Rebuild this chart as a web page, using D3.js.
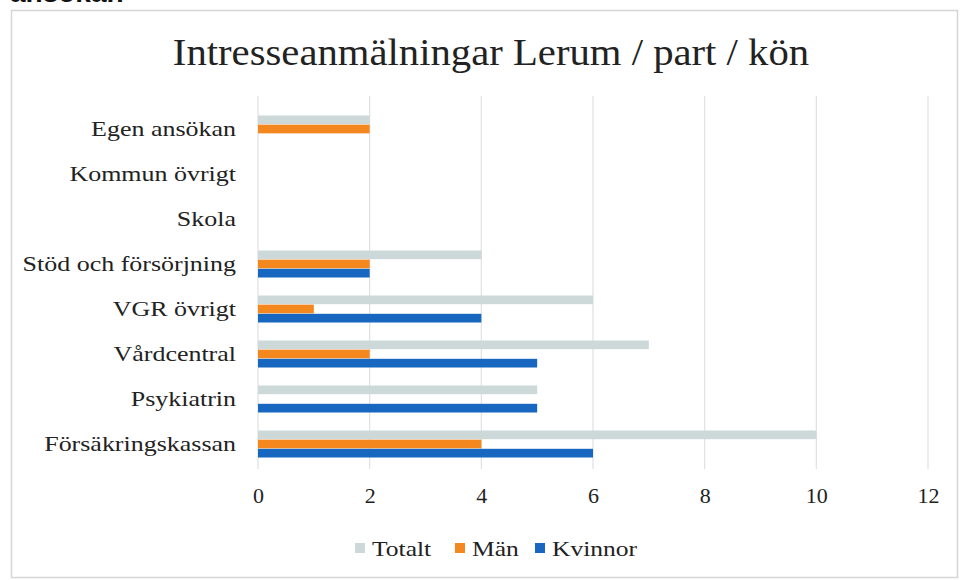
<!DOCTYPE html>
<html>
<head>
<meta charset="utf-8">
<script src="https://cdn.jsdelivr.net/npm/d3@7"></script>
<style>
  html, body { margin: 0; padding: 0; background: #fff; }
  svg { display: block; }
</style>
</head>
<body>
<svg id="chart" width="961" height="580"></svg>
<script>
const categories = ["Egen ansökan", "Kommun övrigt", "Skola", "Stöd och försörjning", "VGR övrigt", "Vårdcentral", "Psykiatrin", "Försäkringskassan"];
const seriesNames = ["Totalt", "Män", "Kvinnor"];
const totalt  = [2, 0, 0, 4, 6, 7, 5, 10];
const man     = [2, 0, 0, 2, 1, 2, 0, 4];
const kvinnor = [0, 0, 0, 2, 4, 5, 5, 6];
const xTicks = [0, 2, 4, 6, 8, 10, 12];
const title = "Intresseanmälningar Lerum / part / kön";
const colors = { "Totalt": "#cdd9d9", "Män": "#f5871f", "Kvinnor": "#1766c0" };

const seriesValues = { "Totalt": totalt, "Män": man, "Kvinnor": kvinnor };
const serif = "'Liberation Serif', 'Times New Roman', serif";

// widen the Times-like glyphs to approximate the Cambria-style source font
function widen(sel, k) {
  sel.each(function () {
    const w = this.getComputedTextLength();
    d3.select(this).attr("textLength", w * k).attr("lengthAdjust", "spacingAndGlyphs");
  });
}

const svg = d3.select("#chart");

// Cut-off heading text from the page above
svg.append("text").attr("x", 10).attr("y", 2)
  .attr("font-family", "'Liberation Sans', Arial, sans-serif")
  .attr("font-size", 28).attr("font-weight", "bold").attr("fill", "#111")
  .text("ansökan");

// chart border
svg.append("rect").attr("x", 11.5).attr("y", 10.5).attr("width", 946).attr("height", 567)
  .attr("fill", "none").attr("stroke", "#d6d6d6").attr("stroke-width", 1.5);

const x = d3.scaleLinear().domain([0, 12]).range([258, 928]);
const y = d3.scaleBand().domain(categories).range([106.5, 466.5]).paddingInner(0.4).paddingOuter(0.2);
const ySub = d3.scaleBand().domain(seriesNames).range([0, y.bandwidth()]).paddingInner(0.05);

// gridlines
svg.append("g").selectAll("line").data(xTicks).join("line")
  .attr("x1", d => x(d)).attr("x2", d => x(d))
  .attr("y1", 96).attr("y2", 469)
  .attr("stroke", "#e0e0e0").attr("stroke-width", 1.2);

// bars
const groups = svg.append("g").selectAll("g").data(categories).join("g")
  .attr("transform", d => `translate(0,${y(d)})`);
groups.selectAll("rect")
  .data((c, i) => seriesNames.map(s => ({ s, v: seriesValues[s][i] })))
  .join("rect")
  .attr("x", x(0))
  .attr("y", d => ySub(d.s))
  .attr("width", d => x(d.v) - x(0))
  .attr("height", ySub.bandwidth())
  .attr("fill", d => colors[d.s]);

// y-axis labels
const yAxis = d3.axisLeft(y).tickSize(0).tickPadding(0);
const yg = svg.append("g").attr("transform", `translate(236,0)`).call(yAxis);
yg.select(".domain").remove();
yg.selectAll("text").attr("font-family", serif).attr("font-size", 22).attr("fill", "#222")
  .attr("dy", "0.32em").call(widen, 1.18);

// x-axis labels
const xAxis = d3.axisBottom(x).tickValues(xTicks).tickSize(0).tickPadding(0).tickFormat(d3.format("d"));
const xg = svg.append("g").attr("transform", `translate(0,487)`).call(xAxis);
xg.select(".domain").remove();
xg.selectAll("text").attr("font-family", serif).attr("font-size", 22).attr("fill", "#222");

// title
svg.append("text").attr("x", 491).attr("y", 65).attr("text-anchor", "middle")
  .attr("font-family", serif).attr("font-size", 37).attr("fill", "#222")
  .text(title).call(widen, 1.10);

// legend
const legendItems = [ { s: "Totalt", x: 355 }, { s: "Män", x: 455 }, { s: "Kvinnor", x: 535 } ];
const lg = svg.append("g").selectAll("g").data(legendItems).join("g")
  .attr("transform", d => `translate(${d.x},548)`);
lg.append("rect").attr("x", 0).attr("y", -5).attr("width", 10).attr("height", 10)
  .attr("fill", d => colors[d.s]);
lg.append("text").attr("x", 17).attr("y", 0).attr("dy", "0.35em")
  .attr("font-family", serif).attr("font-size", 22).attr("fill", "#222")
  .text(d => d.s).call(widen, 1.16);
</script>
</body>
</html>
